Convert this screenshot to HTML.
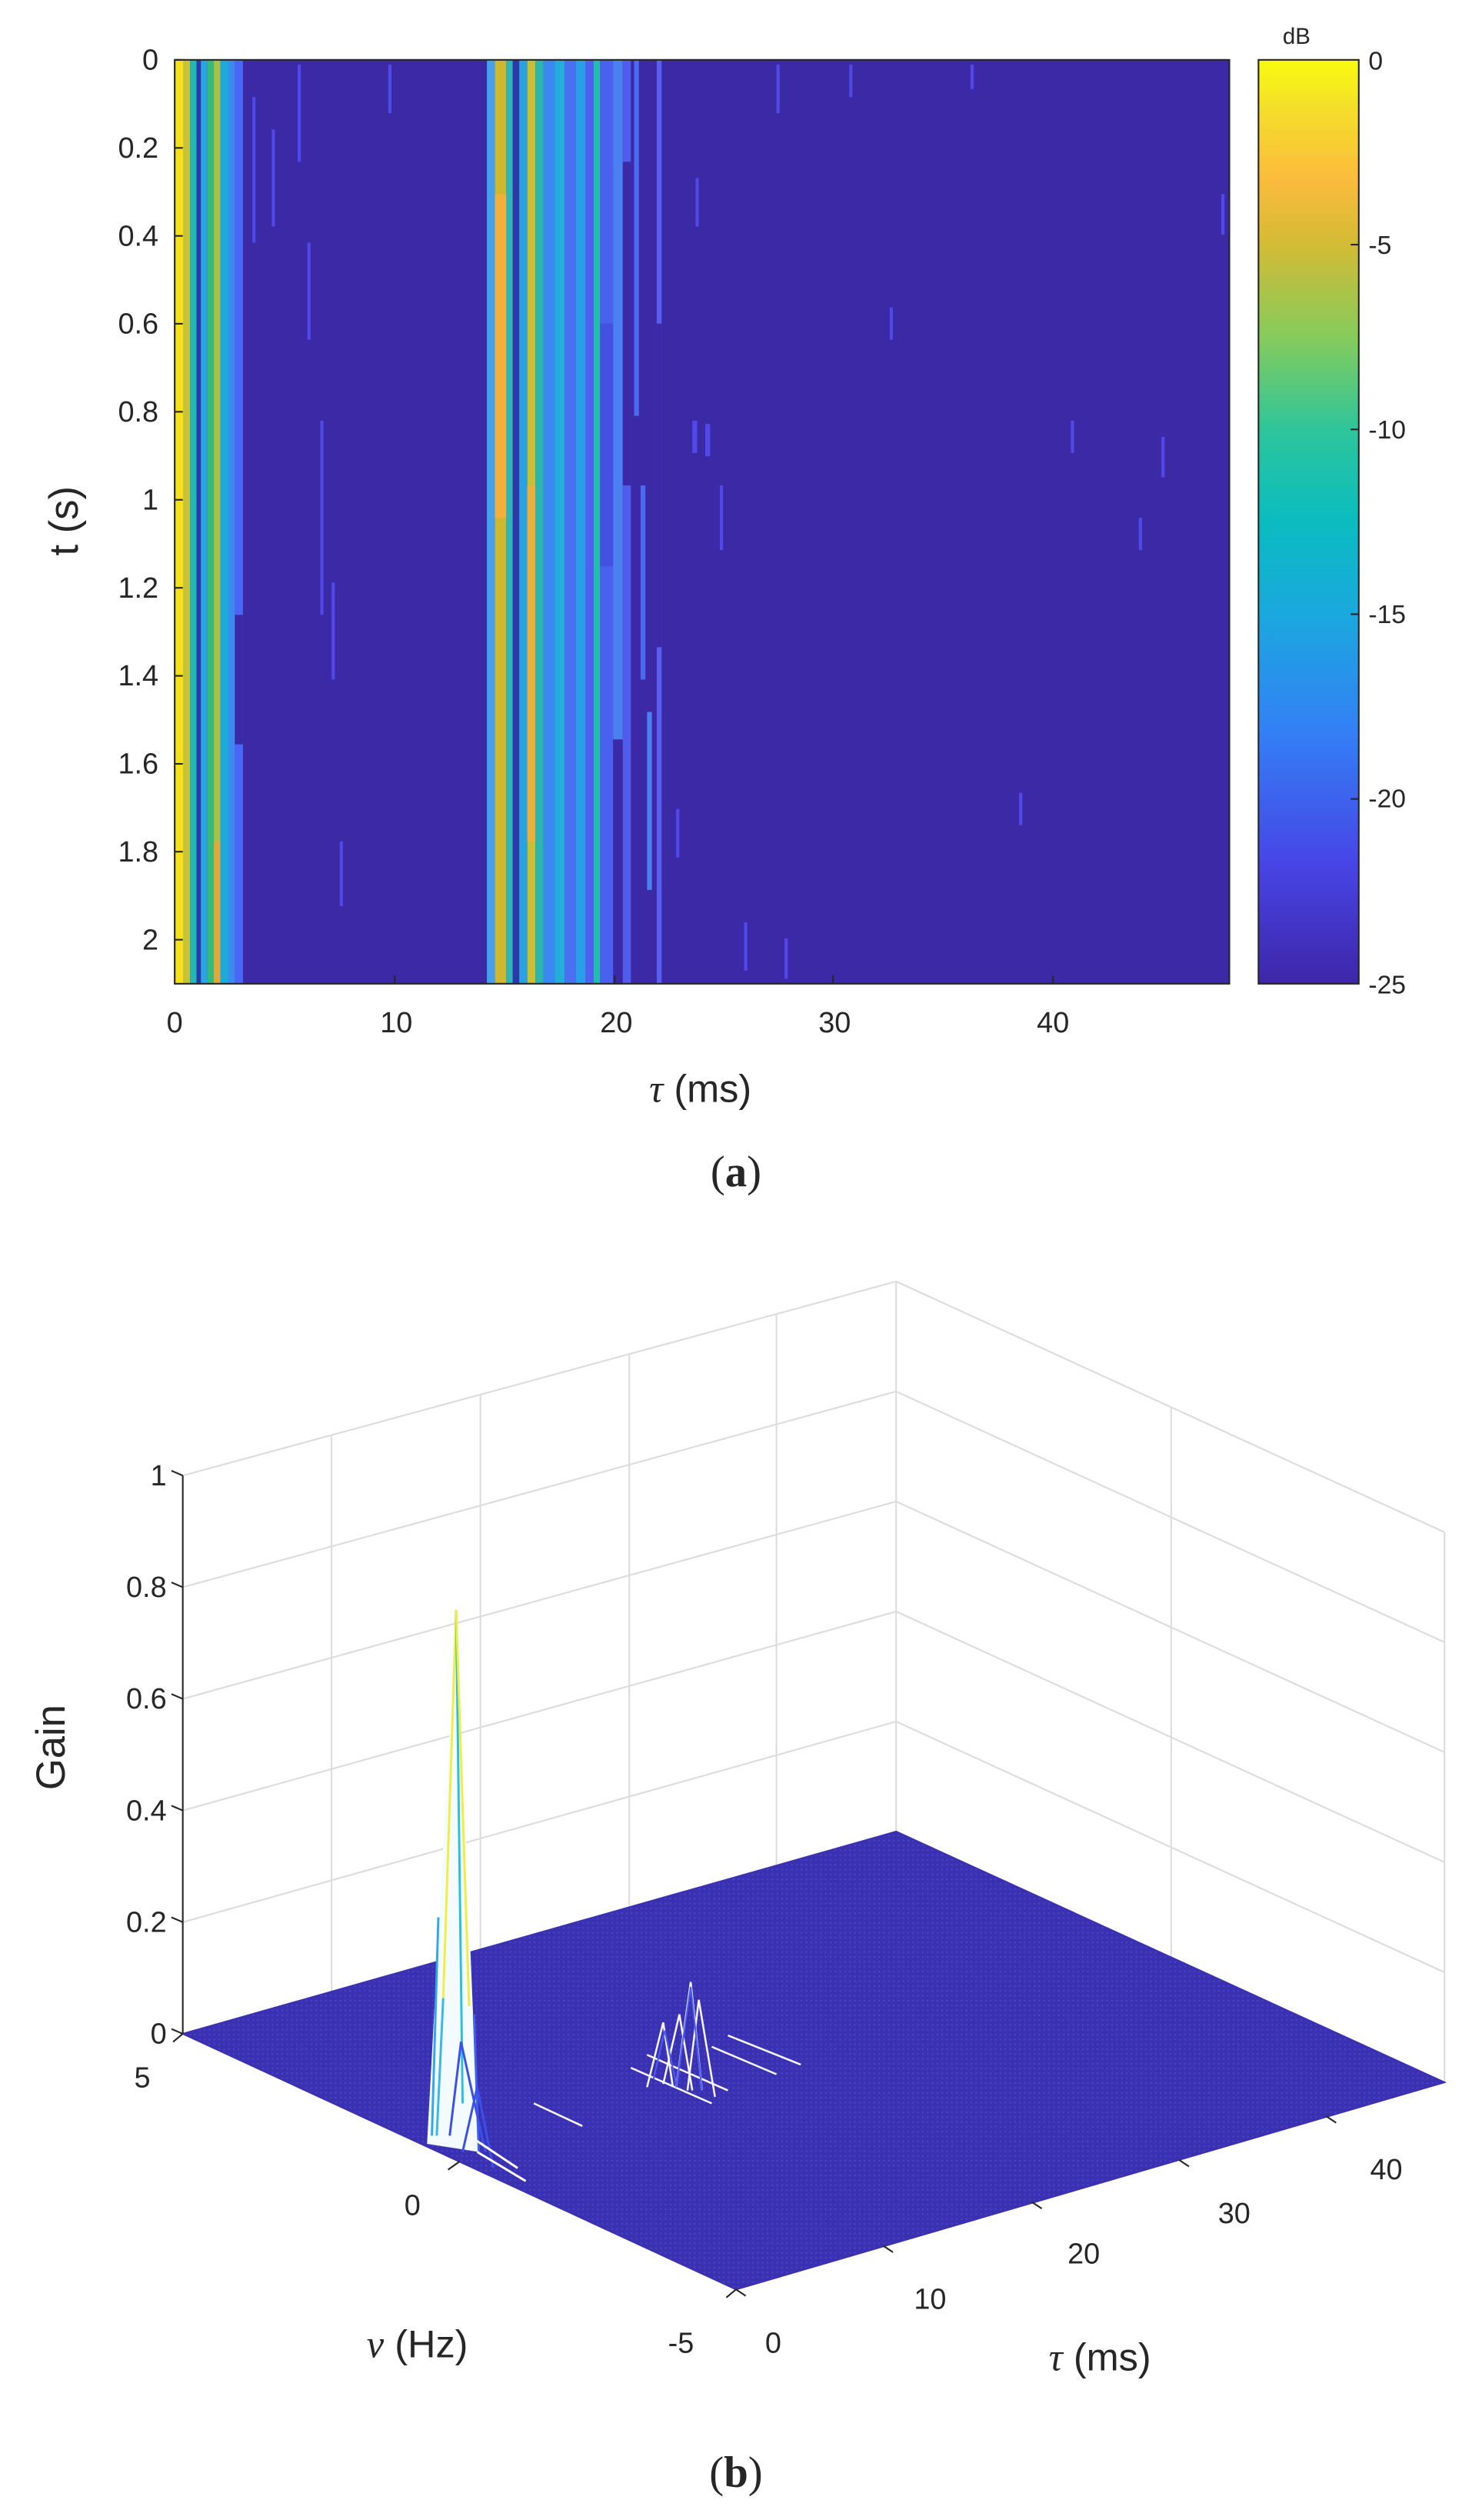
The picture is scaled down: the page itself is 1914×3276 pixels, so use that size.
<!DOCTYPE html>
<html><head><meta charset="utf-8"><style>
html,body{margin:0;padding:0;background:#fff;}
svg{display:block;}
text{font-family:"Liberation Sans",sans-serif;fill:#262626;}
</style></head><body>
<svg width="1914" height="3276" viewBox="0 0 910 1557.5" preserveAspectRatio="none" xmlns="http://www.w3.org/2000/svg">
<defs>
<linearGradient id="parula" x1="0" y1="1" x2="0" y2="0">
<stop offset="0" stop-color="#3e26a8"/>
<stop offset="0.13" stop-color="#4745e6"/>
<stop offset="0.27" stop-color="#347ff5"/>
<stop offset="0.4" stop-color="#1ba8de"/>
<stop offset="0.5" stop-color="#0abcc0"/>
<stop offset="0.6" stop-color="#2ec59b"/>
<stop offset="0.7" stop-color="#86cb5c"/>
<stop offset="0.8" stop-color="#d3bb35"/>
<stop offset="0.87" stop-color="#fbbb3c"/>
<stop offset="0.95" stop-color="#f4e02a"/>
<stop offset="1" stop-color="#f9fb0e"/>
</linearGradient>
<pattern id="mesh" width="3" height="3" patternUnits="userSpaceOnUse">
<rect width="3" height="3" fill="#3a30b2"/>
<rect width="1" height="1" fill="#4a44c4"/>
</pattern>
</defs>

<!-- ===== (a) heatmap ===== -->
<rect x="108" y="37" width="652" height="571" fill="#3c29a6"/>
<g>
<rect x="108" y="37" width="5.5" height="571" fill="#f5e020"/>
<rect x="113.5" y="37" width="4" height="571" fill="#c8c236"/>
<rect x="117.5" y="37" width="4" height="571" fill="#22b8b6"/>
<rect x="121.5" y="37" width="2.7" height="571" fill="#2a3aa8"/>
<rect x="124.2" y="37" width="4" height="571" fill="#2aa4e2"/>
<rect x="128.2" y="37" width="4" height="571" fill="#37b97a"/>
<rect x="132.2" y="37" width="4" height="571" fill="#a8c046"/>
<rect x="132.2" y="520" width="4" height="88" fill="#e0a838"/>
<rect x="136.2" y="37" width="5" height="571" fill="#1eaad8"/>
<rect x="141.2" y="37" width="4" height="571" fill="#3c8af0"/>
<rect x="145.2" y="37" width="5" height="571" fill="#4a66f4"/>
<rect x="145.2" y="380" width="5" height="80" fill="#3c29a6"/>
<rect x="301" y="37" width="5" height="571" fill="#46a0ea"/>
<rect x="306" y="37" width="7" height="571" fill="#cdb830"/>
<rect x="306" y="120" width="7" height="200" fill="#f0b03a"/>
<rect x="313" y="37" width="4" height="571" fill="#2fb4b8"/>
<rect x="317" y="37" width="4" height="571" fill="#2c38a8"/>
<rect x="321" y="37" width="5" height="571" fill="#2aa2e0"/>
<rect x="326" y="37" width="5" height="571" fill="#c8c032"/>
<rect x="326" y="300" width="5" height="220" fill="#eab03a"/>
<rect x="331" y="37" width="5" height="571" fill="#2cb6ae"/>
<rect x="336" y="37" width="7" height="571" fill="#3a88f0"/>
<rect x="343" y="37" width="6" height="571" fill="#22aed8"/>
<rect x="349" y="37" width="7" height="571" fill="#4a70f0"/>
<rect x="356" y="37" width="6" height="571" fill="#2a9ee8"/>
<rect x="362" y="37" width="5" height="571" fill="#5060f0"/>
<rect x="367" y="37" width="4" height="571" fill="#24bcae"/>
<rect x="371" y="37" width="8" height="571" fill="#4a60ee"/>
<rect x="371" y="200" width="8" height="150" fill="#4450e0"/>
<rect x="379" y="37" width="6" height="420" fill="#4a80f0"/>
<rect x="385" y="37" width="5" height="571" fill="#4f5cec"/>
<rect x="385" y="100" width="5" height="200" fill="#3c29a6"/>
<rect x="392" y="37" width="3" height="220" fill="#4a6af0"/>
<rect x="396" y="300" width="3" height="120" fill="#4a6af0"/>
<rect x="400" y="440" width="3" height="110" fill="#4a80f0"/>
<rect x="406" y="37" width="3" height="571" fill="#5a5ef0"/>
<rect x="406" y="200" width="3" height="200" fill="#3c29a6"/>
<g fill="#5048e8">
<rect x="156" y="60" width="2" height="90"/><rect x="168" y="80" width="2" height="60"/>
<rect x="184" y="40" width="2" height="60"/><rect x="190" y="150" width="2" height="60"/>
<rect x="198" y="260" width="2" height="120"/><rect x="205" y="360" width="2" height="60"/>
<rect x="210" y="520" width="2" height="40"/><rect x="240" y="40" width="2" height="30"/>
<rect x="428" y="260" width="3" height="20"/><rect x="436" y="262" width="3" height="20"/>
<rect x="460" y="570" width="2" height="30"/><rect x="480" y="40" width="2" height="30"/>
<rect x="485" y="580" width="2" height="25"/><rect x="525" y="40" width="2" height="20"/>
<rect x="550" y="190" width="2" height="20"/><rect x="600" y="40" width="2" height="15"/>
<rect x="630" y="490" width="2" height="20"/><rect x="662" y="260" width="2" height="20"/>
<rect x="718" y="270" width="2" height="25"/><rect x="704" y="320" width="2" height="20"/>
<rect x="755" y="120" width="2" height="25"/><rect x="430" y="110" width="2" height="30"/>
<rect x="445" y="300" width="2" height="40"/><rect x="418" y="500" width="2" height="30"/>
</g>
</g>
<rect x="108" y="37" width="652" height="571" fill="none" stroke="#262626" stroke-width="1"/>
<g stroke="#262626" stroke-width="1">
<line x1="108" y1="37" x2="113" y2="37"/><line x1="108" y1="91.4" x2="113" y2="91.4"/>
<line x1="108" y1="145.8" x2="113" y2="145.8"/><line x1="108" y1="200.1" x2="113" y2="200.1"/>
<line x1="108" y1="254.5" x2="113" y2="254.5"/><line x1="108" y1="308.9" x2="113" y2="308.9"/>
<line x1="108" y1="363.3" x2="113" y2="363.3"/><line x1="108" y1="417.7" x2="113" y2="417.7"/>
<line x1="108" y1="472.1" x2="113" y2="472.1"/><line x1="108" y1="526.4" x2="113" y2="526.4"/>
<line x1="108" y1="580.8" x2="113" y2="580.8"/>
<line x1="244" y1="608" x2="244" y2="603"/><line x1="380" y1="608" x2="380" y2="603"/>
<line x1="515" y1="608" x2="515" y2="603"/><line x1="651" y1="608" x2="651" y2="603"/>
</g>
<g font-size="18" text-anchor="end">
<text x="98" y="43">0</text><text x="98" y="97.4">0.2</text><text x="98" y="151.8">0.4</text>
<text x="98" y="206.1">0.6</text><text x="98" y="260.5">0.8</text><text x="98" y="314.9">1</text>
<text x="98" y="369.3">1.2</text><text x="98" y="423.7">1.4</text><text x="98" y="478.1">1.6</text>
<text x="98" y="532.4">1.8</text><text x="98" y="586.8">2</text>
</g>
<g font-size="18" text-anchor="middle">
<text x="108" y="638">0</text><text x="245" y="638">10</text><text x="381" y="638">20</text>
<text x="516" y="638">30</text><text x="651" y="638">40</text>
</g>
<text x="48" y="322" font-size="25" text-anchor="middle" transform="rotate(-90 48 322)">t (s)</text>
<text x="433" y="681" font-size="24" text-anchor="middle"><tspan font-family="Liberation Serif" font-style="italic">τ</tspan> (ms)</text>
<rect x="778" y="37" width="62" height="571" fill="url(#parula)" stroke="#262626" stroke-width="1"/>
<g stroke="#262626" stroke-width="1">
<line x1="835" y1="151.2" x2="840" y2="151.2"/><line x1="835" y1="265.4" x2="840" y2="265.4"/>
<line x1="835" y1="379.6" x2="840" y2="379.6"/><line x1="835" y1="493.8" x2="840" y2="493.8"/>
</g>
<g font-size="16">
<text x="846" y="43">0</text><text x="846" y="157">-5</text><text x="846" y="271">-10</text>
<text x="846" y="385">-15</text><text x="846" y="499">-20</text><text x="846" y="614">-25</text>
</g>
<text x="793" y="27" font-size="14">dB</text>
<text x="455" y="733" font-size="27" text-anchor="middle" style="font-family:'Liberation Serif',serif">(<tspan font-weight="bold">a</tspan>)</text>

<!-- ===== (b) 3D mesh ===== -->
<g stroke="#dcdcdc" stroke-width="1" fill="none">
<line x1="113" y1="912" x2="554" y2="792"/>
<line x1="113" y1="981" x2="554" y2="860"/>
<line x1="113" y1="1050" x2="554" y2="928"/>
<line x1="113" y1="1119" x2="554" y2="996"/>
<line x1="113" y1="1188" x2="554" y2="1064"/>
<line x1="205" y1="887" x2="205" y2="1231"/>
<line x1="297" y1="862" x2="297" y2="1205"/>
<line x1="389" y1="837" x2="389" y2="1179"/>
<line x1="480" y1="812" x2="480" y2="1153"/>
<line x1="554" y1="792" x2="554" y2="1132"/>
<line x1="554" y1="792" x2="893" y2="947"/>
<line x1="554" y1="860" x2="893" y2="1015"/>
<line x1="554" y1="928" x2="893" y2="1083"/>
<line x1="554" y1="996" x2="893" y2="1151"/>
<line x1="554" y1="1064" x2="893" y2="1219"/>
<line x1="724" y1="870" x2="724" y2="1210"/>
<line x1="893" y1="947" x2="893" y2="1287"/>
</g>
<polygon points="113,1257 455,1415 893,1287 554,1132" fill="url(#mesh)" stroke="#3a30b0" stroke-width="1"/>
<!-- second cluster -->
<g stroke="#ffffff" stroke-width="1.2" fill="none" opacity="0.95">
<polyline points="400,1290 410,1250 416,1290"/>
<polyline points="410,1288 420,1245 428,1292"/>
<polyline points="418,1290 427,1225 434,1292"/>
<polyline points="425,1292 432,1236 442,1296"/>
<line x1="390" y1="1278" x2="440" y2="1300"/>
<line x1="400" y1="1270" x2="450" y2="1292"/>
<line x1="440" y1="1265" x2="480" y2="1282"/>
<line x1="450" y1="1258" x2="495" y2="1276"/>
<line x1="330" y1="1300" x2="360" y2="1314"/>
</g>
<g stroke="#4a5cf0" stroke-width="1" fill="none">
<polyline points="418,1290 427,1228 434,1292"/>
<polyline points="404,1285 411,1255 418,1288"/>
</g>
<!-- main spike -->
<polygon points="264,1325 282,995 296,1330" fill="#f4fbff"/>
<g fill="none" stroke-width="1.4">
<line x1="282" y1="995" x2="274" y2="1235" stroke="#f0ee40"/>
<line x1="282" y1="995" x2="286" y2="1300" stroke="#2cc0d8"/>
<line x1="282" y1="995" x2="290" y2="1240" stroke="#f0ee40"/>
<line x1="274" y1="1235" x2="270" y2="1320" stroke="#36b8e8"/>
<line x1="271" y1="1185" x2="267" y2="1320" stroke="#30a8e8"/>
<line x1="293" y1="1245" x2="296" y2="1330" stroke="#4060f0"/>
<polyline points="278,1320 285,1262 300,1330" stroke="#3a50e8"/>
<polyline points="286,1330 295,1290 305,1340" stroke="#3a50e8"/>
<line x1="290" y1="1320" x2="320" y2="1340" stroke="#fff"/>
<line x1="295" y1="1330" x2="325" y2="1348" stroke="#fff"/>
</g>
<g stroke="#262626" stroke-width="1" fill="none">
<line x1="113" y1="912" x2="113" y2="1257"/>
<line x1="113" y1="912" x2="106" y2="909"/><line x1="113" y1="981" x2="106" y2="978"/>
<line x1="113" y1="1050" x2="106" y2="1047"/><line x1="113" y1="1119" x2="106" y2="1116"/>
<line x1="113" y1="1188" x2="106" y2="1185"/><line x1="113" y1="1257" x2="106" y2="1254"/>
<line x1="113" y1="1257" x2="107" y2="1262"/>
<line x1="284" y1="1336" x2="277" y2="1341"/>
<line x1="455" y1="1415" x2="449" y2="1420"/>
<line x1="455" y1="1415" x2="461" y2="1419"/>
<line x1="546" y1="1388" x2="552" y2="1392"/><line x1="638" y1="1361" x2="644" y2="1365"/>
<line x1="729" y1="1335" x2="735" y2="1339"/><line x1="820" y1="1308" x2="826" y2="1312"/>
</g>
<g font-size="18" text-anchor="end">
<text x="103" y="918">1</text><text x="103" y="987">0.8</text><text x="103" y="1056">0.6</text>
<text x="103" y="1125">0.4</text><text x="103" y="1194">0.2</text><text x="103" y="1263">0</text>
</g>
<g font-size="18" text-anchor="middle">
<text x="88" y="1290">5</text><text x="255" y="1369">0</text><text x="421" y="1454">-5</text>
<text x="478" y="1454">0</text><text x="575" y="1427">10</text><text x="670" y="1399">20</text>
<text x="763" y="1374">30</text><text x="857" y="1347">40</text>
</g>
<text x="40" y="1080" font-size="25" text-anchor="middle" transform="rotate(-90 40 1080)">Gain</text>
<text x="258" y="1457" font-size="24" text-anchor="middle"><tspan font-family="Liberation Serif" font-style="italic">ν</tspan> (Hz)</text>
<text x="680" y="1465" font-size="24" text-anchor="middle"><tspan font-family="Liberation Serif" font-style="italic">τ</tspan> (ms)</text>
<text x="455" y="1537" font-size="27" text-anchor="middle" style="font-family:'Liberation Serif',serif">(<tspan font-weight="bold">b</tspan>)</text>
</svg>
</body></html>
